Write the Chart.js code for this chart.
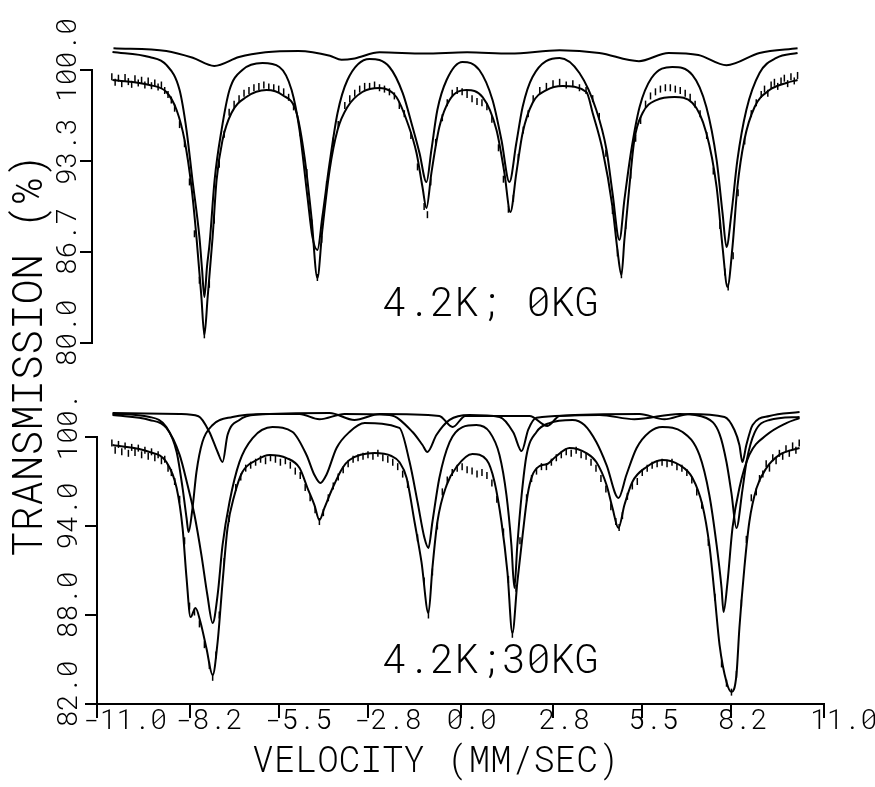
<!DOCTYPE html>
<html>
<head>
<meta charset="utf-8">
<script src="https://cdn.jsdelivr.net/npm/chart.js@4.4.1/dist/chart.umd.min.js"></script>
<style>
  html, body { margin: 0; padding: 0; background: #fff; }
  #wrap { position: relative; width: 875px; height: 787px; }
  .layer { position: absolute; left: 0; top: 0; width: 875px; height: 787px; }
</style>
</head>
<body>
<div id="wrap">
  <div class="layer"><canvas id="fieldChart"></canvas></div>
  <div class="layer"><canvas id="zeroChart"></canvas></div>
</div>
<script>
// shared velocity axis (mm/sec)
const velocityTicks = [-11.0, -8.2, -5.5, -2.8, 0.0, 2.8, 5.5, 8.2, 11.0];

// 4.2K, 0 kG panel
const zeroTicks = [80.0, 86.7, 93.3, 100.0];
const zeroTickLabels = ['80.0', '86.7', '93.3', '100.0'];

const zeroWeak = [[-10.5, 101.6], [-8.9, 101.4], [-8.1, 100.9], [-7.45, 100.3], [-6.7, 100.95], [-5.9, 101.3],
  [-4.9, 101.4], [-3.95, 101.05], [-3.6, 100.75], [-3.2, 100.85], [-2.45, 101.3], [-1.1, 101.2], [0.2, 101.3],
  [1.5, 101.2], [3.0, 101.45], [4.2, 101.25], [5.4, 100.65], [6.3, 101.25], [7.2, 101.1], [8.05, 100.35],
  [9.05, 101.25], [10.2, 101.6]];

const zeroMain = [[-10.53, 101.32], [-9.41, 100.95], [-8.9, 100.37], [-8.5, 98.53], [-8.29, 95.6], [-8.11, 91.94],
  [-7.9, 87.77], [-7.82, 85.4], [-7.75, 83.37], [-7.67, 85.6], [-7.59, 87.33], [-7.44, 91.94], [-7.23, 95.6],
  [-6.99, 98.53], [-6.6, 100.0], [-5.99, 100.51], [-5.48, 100.22], [-5.11, 98.53], [-4.87, 95.6], [-4.63, 90.7],
  [-4.48, 87.77], [-4.33, 86.81], [-4.18, 89.23], [-3.96, 93.19], [-3.72, 96.85], [-3.42, 99.27], [-2.75, 100.81],
  [-2.15, 100.22], [-1.75, 98.32], [-1.45, 95.82], [-1.24, 93.92], [-1.03, 91.79], [-0.88, 94.14], [-0.7, 97.07],
  [-0.42, 99.27], [0.06, 100.59], [0.57, 100.0], [0.97, 97.8], [1.24, 94.87], [1.48, 91.79], [1.69, 94.65],
  [1.88, 97.29], [2.18, 99.49], [3.0, 100.88], [3.6, 99.78], [4.11, 97.07], [4.42, 94.14], [4.6, 90.99],
  [4.81, 87.55], [4.96, 90.48], [5.17, 94.14], [5.42, 97.29], [5.78, 99.41], [6.41, 100.22], [7.02, 99.63],
  [7.44, 97.29], [7.75, 93.41], [7.93, 89.52], [8.05, 87.03], [8.2, 89.52], [8.38, 93.41], [8.65, 97.07],
  [9.05, 99.78], [9.56, 100.88], [10.2, 101.25]];

const zeroSum = [[-10.53, 99.27], [-9.41, 98.9], [-8.9, 98.39], [-8.59, 97.07], [-8.35, 94.87], [-8.14, 91.43],
  [-7.99, 87.77], [-7.84, 83.37], [-7.75, 80.59], [-7.65, 83.37], [-7.5, 87.77], [-7.38, 91.94], [-7.2, 94.87],
  [-6.93, 96.85], [-6.48, 98.02], [-5.87, 98.53], [-5.39, 98.17], [-4.96, 96.85], [-4.72, 93.63], [-4.51, 89.23],
  [-4.33, 84.76], [-4.18, 88.28], [-3.96, 92.67], [-3.72, 95.6], [-3.42, 97.29], [-2.97, 98.39], [-2.45, 98.68],
  [-1.94, 98.02], [-1.6, 96.12], [-1.33, 93.92], [-1.15, 91.43], [-1.03, 89.89], [-0.88, 92.45], [-0.64, 95.82],
  [-0.33, 97.8], [0.18, 98.53], [0.67, 98.02], [1.09, 95.6], [1.33, 92.45], [1.51, 89.6], [1.69, 92.45],
  [1.88, 95.38], [2.18, 97.58], [2.6, 98.53], [3.09, 98.83], [3.81, 98.39], [4.0, 96.85], [4.3, 94.14],
  [4.6, 89.96], [4.75, 86.81], [4.87, 84.98], [4.96, 87.55], [5.11, 91.43], [5.26, 94.87], [5.51, 96.85],
  [5.93, 97.8], [6.48, 98.02], [7.02, 97.58], [7.44, 95.38], [7.75, 91.43], [7.93, 87.03], [8.08, 84.1],
  [8.23, 87.03], [8.38, 91.43], [8.59, 94.87], [8.9, 97.29], [9.35, 98.53], [9.86, 99.05], [10.2, 99.27]];

const zeroObs = [[-10.55, 99.5], [-10.45, 99.1], [-10.35, 99.4], [-10.25, 99.0], [-10.15, 99.45], [-10.05, 99.15],
  [-9.95, 98.95], [-9.85, 99.35], [-9.75, 99.05], [-9.65, 99.25], [-9.55, 98.9], [-9.45, 99.2], [-9.35, 98.85],
  [-9.25, 99.05], [-9.15, 98.75], [-9.05, 98.9], [-8.95, 98.5], [-8.85, 98.2], [-8.75, 97.8], [-8.65, 97.2],
  [-8.5, 96.0], [-8.35, 94.6], [-8.2, 91.8], [-8.05, 88.0], [-7.9, 84.6], [-7.75, 80.6], [-7.6, 84.3],
  [-7.45, 89.0], [-7.3, 93.1], [-7.15, 95.3], [-7.0, 96.9], [-6.85, 97.5], [-6.7, 97.9], [-6.55, 98.3],
  [-6.4, 98.5], [-6.25, 98.7], [-6.1, 98.8], [-5.95, 98.9], [-5.8, 98.75], [-5.65, 98.7], [-5.5, 98.6],
  [-5.35, 98.4], [-5.2, 98.0], [-5.05, 97.3], [-4.85, 95.4], [-4.65, 92.5], [-4.5, 88.8], [-4.33, 84.8],
  [-4.2, 87.6], [-4.05, 91.6], [-3.85, 94.8], [-3.7, 96.0], [-3.5, 97.4], [-3.35, 97.9], [-3.2, 98.3],
  [-3.05, 98.6], [-2.9, 98.8], [-2.75, 98.8], [-2.6, 98.9], [-2.45, 98.7], [-2.3, 98.6], [-2.15, 98.4],
  [-2.0, 98.1], [-1.85, 97.4], [-1.7, 96.8], [-1.5, 95.2], [-1.3, 92.9], [-1.1, 90.0], [-1.0, 89.4],
  [-0.9, 91.8], [-0.75, 94.7], [-0.55, 96.5], [-0.4, 97.6], [-0.25, 98.3], [-0.1, 98.5], [0.05, 98.4],
  [0.2, 98.2], [0.35, 97.9], [0.5, 97.7], [0.65, 97.6], [0.8, 97.3], [0.95, 96.4], [1.15, 94.3], [1.3, 92.0],
  [1.45, 89.8], [1.6, 90.6], [1.75, 93.6], [1.9, 95.6], [2.05, 96.8], [2.2, 97.9], [2.4, 98.5], [2.6, 98.8],
  [2.8, 99.0], [3.0, 99.1], [3.2, 98.9], [3.4, 99.0], [3.6, 98.7], [3.8, 98.5], [4.0, 97.9], [4.2, 96.6],
  [4.4, 93.9], [4.6, 89.7], [4.75, 86.6], [4.87, 85.0], [5.0, 88.6], [5.15, 92.3], [5.3, 95.0], [5.45, 96.3],
  [5.6, 97.5], [5.75, 98.1], [5.9, 98.4], [6.05, 98.6], [6.2, 98.7], [6.35, 98.7], [6.5, 98.6], [6.65, 98.5],
  [6.8, 98.3], [6.95, 98.0], [7.1, 97.5], [7.25, 96.8], [7.45, 95.2], [7.65, 92.6], [7.85, 88.6], [8.0, 85.2],
  [8.1, 84.1], [8.25, 86.4], [8.4, 91.0], [8.6, 94.8], [8.8, 96.8], [8.95, 97.6], [9.1, 98.2], [9.2, 98.6],
  [9.3, 98.3], [9.4, 98.9], [9.5, 99.1], [9.6, 98.8], [9.7, 99.2], [9.8, 99.4], [9.9, 99.0], [10.0, 99.5],
  [10.1, 99.2], [10.2, 99.6]];

// 4.2K, 30 kG panel
const fieldTicks = [82.0, 88.0, 94.0, 100.0];
const fieldTickLabels = ['82.0', '88.0', '94.0', '100.'];

const fieldBroad = [[-10.53, 101.48], [-9.41, 101.15], [-8.9, 100.61], [-8.5, 98.79], [-8.26, 96.76], [-8.05, 94.74],
  [-7.84, 92.04], [-7.66, 89.35], [-7.5, 87.46], [-7.35, 89.35], [-7.2, 92.72], [-6.99, 95.62], [-6.69, 98.31],
  [-6.29, 99.93], [-5.69, 100.67], [-5.08, 100.34], [-4.66, 98.79], [-4.42, 97.44], [-4.24, 96.9], [-4.06, 97.44],
  [-3.75, 99.26], [-3.36, 100.34], [-2.9, 100.94], [-1.85, 100.61], [-1.54, 98.31], [-1.3, 95.62], [-1.09, 93.19],
  [-0.97, 92.52], [-0.85, 94.27], [-0.64, 97.24], [-0.33, 99.66], [0.06, 100.67], [0.48, 100.81], [0.88, 100.34],
  [1.18, 98.79], [1.39, 96.09], [1.54, 92.72], [1.63, 89.82], [1.72, 92.72], [1.85, 96.09], [2.0, 98.79],
  [2.3, 100.34], [2.69, 100.94], [3.39, 101.15], [3.75, 100.81], [4.11, 99.66], [4.42, 98.11], [4.78, 95.89],
  [5.02, 97.44], [5.33, 99.26], [5.72, 100.34], [6.11, 100.67], [6.72, 100.34], [7.23, 98.79], [7.53, 96.09],
  [7.75, 92.72], [7.9, 89.82], [7.96, 88.2], [8.08, 90.22], [8.23, 93.86], [8.44, 96.56], [8.74, 98.79],
  [9.26, 100.13], [9.86, 100.94], [10.26, 101.28]];

const fieldOuter = [[-10.53, 101.55], [-9.41, 101.35], [-8.9, 100.67], [-8.59, 98.99], [-8.41, 96.56], [-8.29, 94.54],
  [-8.23, 93.59], [-8.11, 95.21], [-7.99, 97.64], [-7.81, 99.66], [-7.5, 100.81], [-6.9, 101.35], [-5.87, 101.55],
  [-4.87, 101.55], [-4.27, 101.2], [-3.51, 101.55], [-2.15, 101.48], [-1.45, 100.34], [-1.15, 99.46], [-1.0, 98.99],
  [-0.73, 100.13], [-0.33, 101.15], [0.27, 101.48], [1.18, 101.35], [1.6, 100.3], [1.85, 99.05], [2.05, 100.5],
  [2.3, 101.3], [4.21, 101.48], [5.26, 101.2], [6.63, 101.55], [7.44, 101.28], [7.84, 100.2], [8.05, 98.3],
  [8.2, 96.2], [8.35, 93.86], [8.53, 96.4], [8.66, 98.4], [8.9, 100.3], [9.35, 101.15], [10.26, 101.35]];

const fieldNarrow = [[-10.53, 101.62], [-8.5, 101.55], [-7.93, 101.4], [-7.6, 100.34], [-7.35, 98.99], [-7.2, 98.31],
  [-7.05, 100.13], [-6.69, 101.15], [-6.2, 101.5], [-3.96, 101.62], [-3.21, 101.15], [-2.45, 101.55],
  [-0.64, 101.42], [-0.24, 100.67], [0.15, 101.42], [2.09, 101.42], [2.63, 100.74], [3.0, 101.42], [5.42, 101.55],
  [6.17, 101.2], [6.93, 101.55], [7.99, 101.35], [8.29, 100.47], [8.44, 99.46], [8.53, 98.31], [8.65, 99.46],
  [8.84, 100.81], [9.35, 101.42], [10.26, 101.69]];

const fieldSum = [[-10.53, 99.46], [-9.41, 98.99], [-8.9, 98.31], [-8.59, 96.56], [-8.41, 93.86], [-8.29, 90.49],
  [-8.17, 87.86], [-8.02, 88.47], [-7.87, 87.53], [-7.69, 85.77], [-7.5, 83.95], [-7.35, 86.18], [-7.2, 90.22],
  [-7.05, 93.86], [-6.84, 96.09], [-6.6, 97.64], [-6.17, 98.45], [-5.78, 98.79], [-5.26, 98.58], [-4.87, 97.91],
  [-4.63, 96.56], [-4.42, 95.41], [-4.27, 94.4], [-4.12, 95.21], [-3.87, 96.56], [-3.57, 97.91], [-3.36, 98.45],
  [-2.6, 98.92], [-2.09, 98.72], [-1.85, 98.31], [-1.63, 97.24], [-1.39, 94.27], [-1.18, 91.57], [-0.97, 88.13],
  [-0.85, 91.17], [-0.7, 94.27], [-0.42, 96.76], [-0.12, 97.98], [0.36, 98.85], [0.79, 98.45], [1.03, 96.97],
  [1.24, 94.27], [1.42, 90.9], [1.57, 86.78], [1.72, 90.22], [1.88, 93.39], [2.03, 96.09], [2.18, 97.44],
  [2.39, 98.04], [2.63, 98.18], [2.87, 98.65], [3.3, 99.26], [3.81, 98.92], [4.11, 98.31], [4.42, 96.76],
  [4.6, 95.21], [4.78, 93.86], [4.96, 95.41], [5.2, 96.97], [5.63, 97.98], [6.11, 98.45], [6.63, 98.11],
  [7.02, 97.24], [7.32, 95.41], [7.53, 92.72], [7.69, 89.35], [7.84, 85.97], [8.05, 83.48], [8.2, 82.81],
  [8.35, 83.95], [8.44, 87.12], [8.59, 91.17], [8.74, 94.27], [8.96, 96.56], [9.26, 97.91], [9.65, 98.79],
  [10.26, 99.26]];

const fieldObs = [[-10.55, 99.6], [-10.45, 99.1], [-10.35, 99.5], [-10.25, 99.0], [-10.15, 99.4], [-10.05, 98.9],
  [-9.95, 99.3], [-9.85, 98.95], [-9.75, 99.25], [-9.65, 98.8], [-9.55, 99.1], [-9.45, 98.7], [-9.35, 99.0],
  [-9.25, 98.6], [-9.15, 98.8], [-9.05, 98.4], [-8.95, 98.5], [-8.85, 97.9], [-8.75, 97.6], [-8.65, 97.0],
  [-8.5, 95.8], [-8.35, 93.0], [-8.2, 88.6], [-8.05, 88.2], [-7.9, 87.4], [-7.75, 86.0], [-7.6, 84.6],
  [-7.5, 83.8], [-7.4, 85.3], [-7.3, 88.0], [-7.15, 91.6], [-7.0, 94.5], [-6.8, 96.6], [-6.65, 97.3],
  [-6.5, 97.9], [-6.35, 98.1], [-6.2, 98.3], [-6.05, 98.5], [-5.9, 98.4], [-5.75, 98.6], [-5.6, 98.5],
  [-5.45, 98.3], [-5.3, 98.4], [-5.15, 98.1], [-5.0, 97.7], [-4.85, 97.4], [-4.7, 96.6], [-4.55, 95.9],
  [-4.4, 95.1], [-4.27, 94.3], [-4.15, 94.9], [-4.0, 95.9], [-3.85, 96.7], [-3.7, 97.3], [-3.55, 97.8],
  [-3.4, 98.2], [-3.25, 98.5], [-3.1, 98.6], [-2.95, 98.7], [-2.8, 98.8], [-2.65, 98.7], [-2.5, 98.9],
  [-2.35, 98.6], [-2.2, 98.5], [-2.05, 98.3], [-1.9, 98.0], [-1.75, 97.5], [-1.6, 96.8], [-1.3, 93.2],
  [-1.1, 90.3], [-0.97, 88.0], [-0.85, 90.9], [-0.7, 94.0], [-0.55, 96.3], [-0.4, 97.1], [-0.25, 97.6],
  [-0.1, 97.9], [0.05, 98.0], [0.2, 97.8], [0.35, 97.7], [0.5, 97.5], [0.65, 97.6], [0.8, 97.4], [0.95, 96.9],
  [1.1, 95.8], [1.3, 93.6], [1.45, 90.4], [1.57, 86.7], [1.68, 89.8], [1.8, 93.0], [2.0, 95.9], [2.15, 97.2],
  [2.3, 97.7], [2.45, 98.0], [2.6, 98.0], [2.75, 98.3], [2.9, 98.6], [3.05, 98.8], [3.2, 99.0], [3.35, 98.9],
  [3.5, 99.1], [3.65, 98.8], [3.8, 98.7], [3.95, 98.3], [4.1, 97.9], [4.25, 97.2], [4.4, 96.5], [4.55, 95.3],
  [4.7, 94.3], [4.8, 93.9], [4.9, 94.7], [5.05, 96.0], [5.2, 96.7], [5.35, 97.0], [5.5, 97.6], [5.65, 97.9],
  [5.8, 98.1], [5.95, 98.2], [6.1, 98.3], [6.25, 98.2], [6.4, 98.3], [6.55, 98.0], [6.7, 97.9], [6.85, 97.6],
  [7.0, 97.1], [7.15, 96.3], [7.3, 95.4], [7.5, 92.9], [7.7, 89.2], [7.9, 84.7], [8.05, 83.4], [8.2, 82.8],
  [8.35, 84.0], [8.5, 88.8], [8.65, 93.1], [8.8, 95.9], [8.95, 96.3], [9.05, 97.2], [9.15, 97.5], [9.25, 98.2],
  [9.35, 97.9], [9.45, 98.6], [9.55, 98.4], [9.65, 98.9], [9.75, 98.7], [9.85, 99.2], [9.95, 98.9],
  [10.05, 99.4], [10.15, 99.1], [10.25, 99.6]];

const plotFont = "'Roboto Mono', 'Liberation Mono', monospace";
const toPoints = pairs => pairs.map(p => ({ x: p[0], y: p[1] }));

function fitLine(pairs) {
    return {
        type: 'line',
        data: toPoints(pairs),
        borderColor: '#000',
        borderWidth: 2,
        pointRadius: 0,
        cubicInterpolationMode: 'monotone',
        fill: false,
        clip: false
    };
}

function obsTicks(pairs) {
    return {
        type: 'scatter',
        data: toPoints(pairs),
        pointStyle: 'line',
        rotation: 90,
        pointRadius: 3.5,
        borderColor: '#000',
        backgroundColor: '#000',
        borderWidth: 1.5,
        clip: false
    };
}

// free text drawn on the canvas (titles and panel captions)
function textPlugin(items) {
    return {
        id: 'plotText',
        afterDraw(chart) {
            const { ctx, scales } = chart;
            items.forEach(item => {
                const x = item.at ? scales.x.getPixelForValue(item.at[0]) : item.px;
                const y = item.at ? scales.y.getPixelForValue(item.at[1]) : item.py;
                ctx.save();
                ctx.translate(x, y);
                ctx.rotate(item.rotate || 0);
                ctx.font = '300 ' + item.size + 'px ' + plotFont;
                ctx.fillStyle = '#000';
                ctx.textAlign = 'center';
                ctx.textBaseline = 'middle';
                ctx.fillText(item.text, 0, 0);
                ctx.restore();
            });
        }
    };
}

function transAxis(min, max, ticks, labels, axisWidth, pad) {
    return {
        type: 'linear',
        position: 'left',
        min: min,
        max: max,
        afterBuildTicks: s => { s.ticks = ticks.map(v => ({ value: v })); },
        afterFit: s => { s.width = axisWidth; s.paddingTop = 0; s.paddingBottom = 0; },
        border: { color: '#000', width: 2 },
        grid: { drawOnChartArea: false, drawTicks: true, tickLength: 12, color: '#000', lineWidth: 2 },
        ticks: {
            autoSkip: false,
            minRotation: 90,
            maxRotation: 90,
            crossAlign: 'center',
            padding: pad,
            labelOffset: -10,
            color: '#000',
            font: { family: plotFont, size: 28, weight: 300 },
            callback: (v, i) => labels[i]
        }
    };
}

const baseOptions = {
    responsive: true,
    maintainAspectRatio: false,
    animation: false,
    events: [],
    plugins: { legend: { display: false }, tooltip: { enabled: false } }
};

// 0 kG spectrum (upper panel)
new Chart(document.getElementById('zeroChart'), {
    type: 'line',
    data: {
        datasets: [fitLine(zeroWeak), fitLine(zeroMain), fitLine(zeroSum), obsTicks(zeroObs)]
    },
    options: Object.assign({}, baseOptions, {
        layout: { padding: { left: 0, right: 51, top: 70, bottom: 444 } },
        scales: {
            x: { type: 'linear', min: -11.15, max: 11, display: false },
            y: transAxis(80, 100, zeroTicks, zeroTickLabels, 92, -30)
        }
    }),
    plugins: [textPlugin([
        { text: '4.2K; 0KG', at: [0.91, 82.86], size: 40 },
        { text: 'TRANSMISSION (%)', px: 30, py: 355, size: 42, rotate: -Math.PI / 2 }
    ])]
});

// 30 kG spectrum (lower panel)
new Chart(document.getElementById('fieldChart'), {
    type: 'line',
    data: {
        datasets: [fitLine(fieldNarrow), fitLine(fieldOuter), fitLine(fieldBroad), fitLine(fieldSum), obsTicks(fieldObs)]
    },
    options: Object.assign({}, baseOptions, {
        layout: { padding: { left: 0, right: 51, top: 437, bottom: 43 } },
        scales: {
            x: {
                type: 'linear',
                position: 'bottom',
                min: -11,
                max: 11,
                afterBuildTicks: s => { s.ticks = velocityTicks.map(v => ({ value: v })); },
                afterFit: s => { s.height = 40; s.paddingLeft = 0; s.paddingRight = 0; },
                border: { color: '#000', width: 2 },
                grid: { drawOnChartArea: false, drawTicks: true, tickLength: 14, color: '#000', lineWidth: 2 },
                ticks: {
                    autoSkip: false,
                    maxRotation: 0,
                    align: 'start',
                    labelOffset: -14,
                    padding: -14,
                    color: '#000',
                    font: { family: plotFont, size: 28, weight: 300 },
                    callback: v => v.toFixed(1)
                }
            },
            y: transAxis(82, 100, fieldTicks, fieldTickLabels, 97, -17)
        }
    }),
    plugins: [textPlugin([
        { text: '4.2K;30KG', at: [0.91, 84.9], size: 40 },
        { text: 'VELOCITY (MM/SEC)', px: 436, py: 761, size: 36 }
    ])]
});
</script>
</body>
</html>
